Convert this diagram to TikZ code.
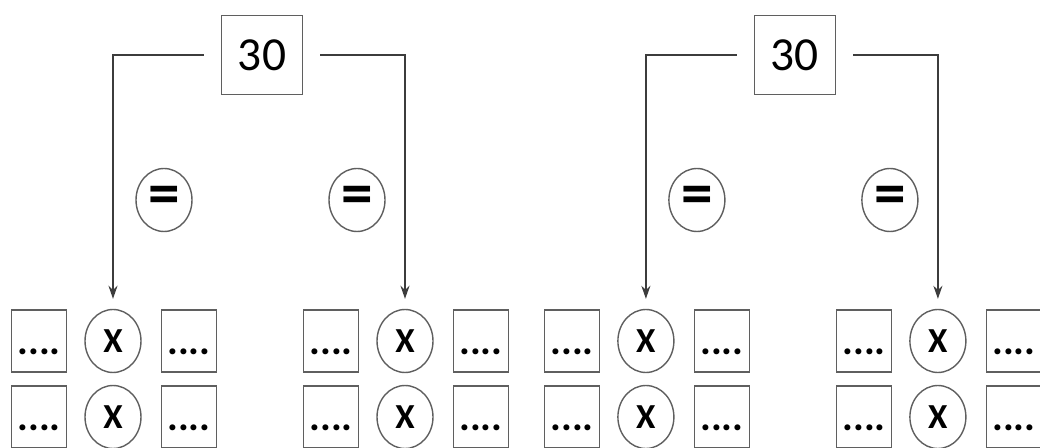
\documentclass[tikz,border=0pt]{standalone}
\usepackage{fontspec}
\setmainfont{Carlito}
\usepackage{tikz}
\usetikzlibrary{shapes.geometric, arrows.meta, positioning}
\definecolor{linegray}{RGB}{60,60,60}
\definecolor{boxgray}{RGB}{95,95,95}

\tikzset{
  numbox/.style={draw=boxgray, line width=0.8pt, minimum width=1.62cm, minimum height=1.58cm,
    inner sep=0pt, font=\fontsize{27}{27}\selectfont},
  dotbox/.style={draw=boxgray, line width=0.8pt, minimum width=1.1cm, inner sep=0pt,
    text height=0.9cm, text depth=0.34cm, font=\fontsize{23}{23}\selectfont\bfseries},
  opcirc/.style={draw=boxgray, line width=0.8pt, ellipse, minimum width=1.12cm, minimum height=1.26cm,
    inner sep=0pt, font=\fontsize{20}{20}\selectfont\bfseries},
  eqsign/.style={font=\fontsize{36}{36}\selectfont\bfseries},
  conn/.style={draw=linegray, line width=1pt, -{Stealth[length=2.6mm,width=1.8mm]},
    shorten <=0.34cm, shorten >=0.2cm},
}

\begin{document}
\begin{tikzpicture}[x=0.02cm, y=-0.02cm]
        \clip (0,0) rectangle (1040,448);
        % Two identical trees
        \foreach \g/\ox in {A/0cm, B/10.66cm} {
          \begin{scope}[xshift=\ox]
            % Total
            \node[numbox] (top\g) at (262,55) {30};
            % Equal signs
            \node[opcirc, eqsign] (eqL\g) at (164,200) {=};
            \node[opcirc, eqsign] (eqR\g) at (357,200) {=};
            % Products
            \foreach \s/\cx in {L/113, R/405} {
              \foreach \r/\cy in {1/341, 2/417} {
                \node[opcirc] (x\g\s\r) at (\cx,\cy) {X};
                \node[dotbox, left=0.34cm of x\g\s\r] (a\g\s\r) {....};
                \node[dotbox, right=0.38cm of x\g\s\r] (b\g\s\r) {....};
              }
            }
            % Arrows
            \draw[conn] (top\g.west) -| (x\g L1.north);
            \draw[conn] (top\g.east) -| (x\g R1.north);
          \end{scope}
        }
      \end{tikzpicture}
\end{document}
